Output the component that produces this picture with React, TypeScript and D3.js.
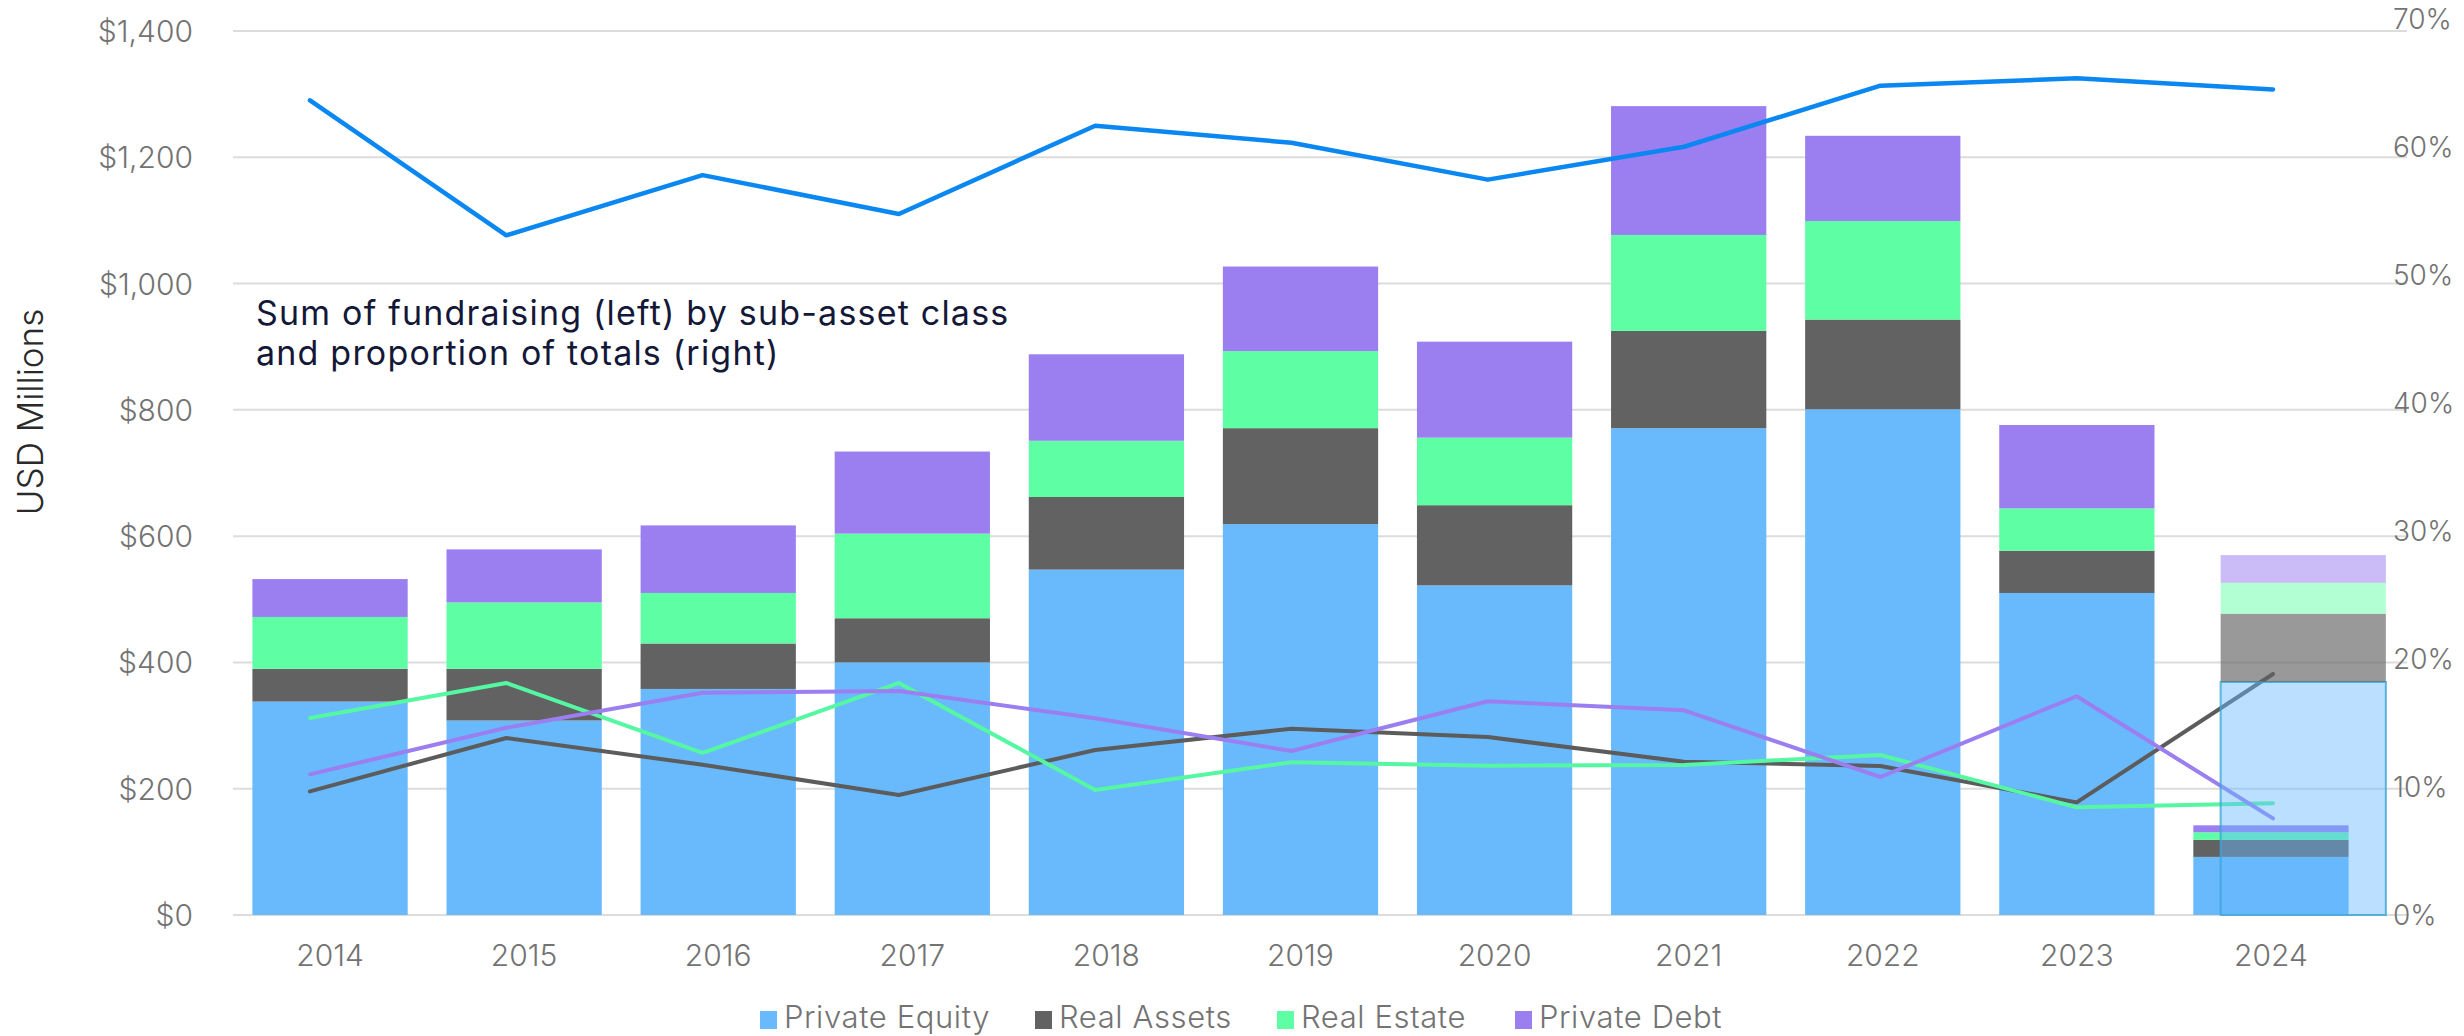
import React from "react";
import * as d3 from "d3";

const years = ["2014", "2015", "2016", "2017", "2018", "2019", "2020", "2021", "2022", "2023", "2024"];
const privateEquity = [338, 308, 358, 400, 547, 619, 522, 771, 801, 510, 92];
const realAssets = [52, 82, 72, 70, 115, 152, 127, 154, 142, 67, 27];
const realEstate = [82, 105, 80, 134, 89, 122, 107, 152, 156, 67, 12];
const privateDebt = [60, 84, 107, 130, 137, 134, 152, 204, 135, 132, 11];

// translucent overlay bar shown on 2024
const overlayYear = "2024";
const overlayValues = [369, 108, 49, 44];

// proportion of totals (right axis)
const shareEquity = [63.65, 53.1, 57.8, 54.77, 61.66, 60.33, 57.45, 60.02, 64.79, 65.37, 64.5];
const shareAssets = [9.66, 13.83, 11.74, 9.38, 12.89, 14.55, 13.9, 11.98, 11.64, 8.8, 18.83];
const shareEstate = [15.39, 18.13, 12.66, 18.13, 9.77, 11.93, 11.66, 11.72, 12.5, 8.41, 8.73];
const shareDebt = [10.99, 14.63, 17.37, 17.5, 15.37, 12.81, 16.7, 15.99, 10.78, 17.09, 7.55];

const leftTicks = [0, 200, 400, 600, 800, 1000, 1200, 1400];
const rightTicks = [0, 10, 20, 30, 40, 50, 60, 70];
const seriesNames = ["Private Equity", "Real Assets", "Real Estate", "Private Debt"];
const titleLines = ["Sum of fundraising (left) by sub-asset class", "and proportion of totals (right)"];

const barColors = ["#69b9fd", "#626262", "#5effa4", "#9b7ff0"];
const overlayOpacity = [0.45, 0.65, 0.47, 0.52];
const lineColors = ["#0a87f0", "#5c5c5c", "#55f7a2", "#9b7ff0"];
const FONT = "Inter, 'Noto Sans', sans-serif";

export default function App() {
  const W = 2464, H = 1036;
  const x = d3.scaleBand().domain(years).range([233, 2368]).paddingInner(0.2).paddingOuter(0.1);
  const xLine = d3.scalePoint().domain(years).range([310, 2273]);
  const y = d3.scaleLinear().domain([0, 1400]).range([915, 31]);
  const yR = d3.scaleLinear().domain([0, 70]).range([915, 19]);

  const series = [privateEquity, realAssets, realEstate, privateDebt];
  const rows = years.map((yr, i) => ({ year: yr, v: series.map((s) => s[i]) }));
  const stack = d3.stack<any>().keys([0, 1, 2, 3] as any).value((d: any, k: any) => d.v[k]);
  const stacked = stack(rows as any);

  const ov = [0, 1, 2, 3].map((k) => {
    const start = d3.sum(overlayValues.slice(0, k));
    return [start, start + overlayValues[k]];
  });
  const bw = x.bandwidth();
  const ovX = (x(overlayYear) as number) + bw * 0.176;
  const ovW = bw * 1.064;

  const shares = [shareEquity, shareAssets, shareEstate, shareDebt];
  const lineGen = d3
    .line<number>()
    .x((_, i) => xLine(years[i]) as number)
    .y((d) => yR(d));

  const legendX = [760, 1035, 1277, 1515];

  return (
    <svg
      width={W}
      height={H}
      style={{ position: "absolute", left: 0, top: 0, display: "block", background: "#fff" }}
      fontFamily={FONT}
    >
      {/* gridlines */}
      {leftTicks.map((t) => (
        <line key={"g" + t} x1={233} x2={2407} y1={y(t)} y2={y(t)} stroke="#dcdcdc" strokeWidth={2} />
      ))}
      {/* bars */}
      {stacked.map((layer: any, k: number) =>
        layer.map((d: any, i: number) => (
          <rect
            key={"b" + k + "-" + i}
            x={x(years[i])}
            width={bw}
            y={y(d[1])}
            height={y(d[0]) - y(d[1])}
            fill={barColors[k]}
          />
        ))
      )}
      {/* lines */}
      {shares.map((s, k) => (
        <path
          key={"l" + k}
          d={lineGen(s) || ""}
          fill="none"
          stroke={lineColors[k]}
          strokeWidth={k === 0 ? 4.5 : 4}
          strokeLinecap="round"
          strokeLinejoin="round"
        />
      ))}
      {/* overlay */}
      {ov.map((d, k) => (
        <rect
          key={"o" + k}
          x={ovX}
          width={ovW}
          y={y(d[1])}
          height={y(d[0]) - y(d[1])}
          fill={barColors[k]}
          fillOpacity={overlayOpacity[k]}
          stroke={k === 0 ? "#3aa6d6" : "none"}
          strokeOpacity={0.8}
          strokeWidth={k === 0 ? 2 : 0}
        />
      ))}
      {/* left axis labels */}
      {leftTicks.map((t) => (
        <text
          key={"lt" + t}
          x={193}
          y={y(t)}
          textAnchor="end"
          dominantBaseline="central"
          fontSize={30}
          fontWeight={300}
          fill="#737373"
        >
          {d3.format("$,")(t)}
        </text>
      ))}
      {/* right axis labels */}
      {rightTicks.map((t) => (
        <text
          key={"rt" + t}
          x={2393}
          y={yR(t)}
          textAnchor="start"
          dominantBaseline="central"
          fontSize={28}
          fontWeight={300}
          fill="#737373"
        >
          {t + "%"}
        </text>
      ))}
      {/* x labels */}
      {years.map((yr) => (
        <text
          key={"x" + yr}
          x={(x(yr) as number) + bw / 2}
          y={955}
          textAnchor="middle"
          dominantBaseline="central"
          fontSize={30}
          fontWeight={300}
          fill="#737373"
        >
          {yr}
        </text>
      ))}
      {/* y title */}
      <text
        transform={`translate(30,412) rotate(-90)`}
        textAnchor="middle"
        dominantBaseline="central"
        fontSize={35}
        fontWeight={300}
        fill="#2a2a2a"
      >
        USD Millions
      </text>
      {/* chart title */}
      {titleLines.map((t, i) => (
        <text
          key={"t" + i}
          x={256}
          y={325 + i * 40}
          fontSize={34}
          fontWeight={400}
          letterSpacing={1.2}
          fill="#141838"
        >
          {t}
        </text>
      ))}
      {/* legend */}
      {seriesNames.map((n, k) => (
        <g key={"lg" + k}>
          <rect x={legendX[k]} y={1011} width={17} height={18} fill={barColors[k]} />
          <text
            x={legendX[k] + 24}
            y={1028}
            fontSize={31}
            fontWeight={300}
            letterSpacing={0.6}
            fill="#737373"
          >
            {n}
          </text>
        </g>
      ))}
    </svg>
  );
}
